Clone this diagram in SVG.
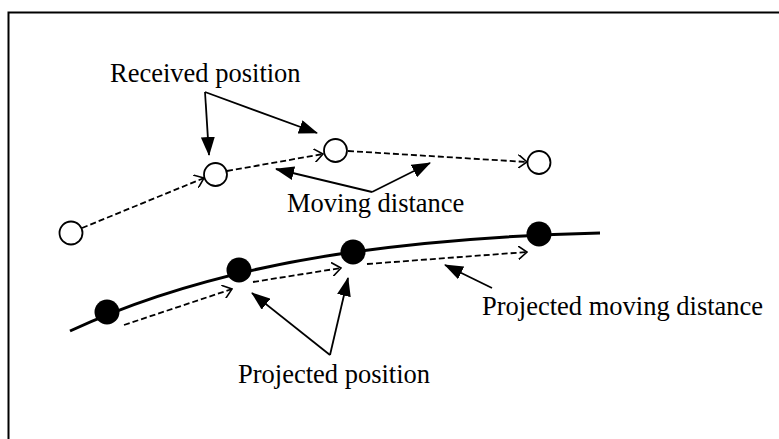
<svg xmlns="http://www.w3.org/2000/svg" width="779" height="439" viewBox="0 0 779 439">
<style>
text{font-family:"Liberation Serif","Times New Roman",serif;font-size:26.5px;fill:#000}
.dash{fill:none;stroke:#000;stroke-width:1.8;stroke-dasharray:6,3;marker-end:url(#open)}
.lead{fill:none;stroke:#000;stroke-width:1.8}
.arr{marker-end:url(#solid)}
.oc{fill:#fff;stroke:#000;stroke-width:1.8}
.fc{fill:#000;stroke:none}
</style>
<defs>
<marker id="solid" viewBox="0 0 19 14" refX="18" refY="7" markerWidth="19" markerHeight="14" markerUnits="userSpaceOnUse" orient="auto">
<path d="M0,0 L19,7 L0,14 Z" fill="#000"/>
</marker>
<marker id="open" viewBox="0 0 10 14" refX="9" refY="7" markerWidth="10" markerHeight="14" markerUnits="userSpaceOnUse" orient="auto">
<path d="M0,0 L9,7 L0,14" fill="none" stroke="#000" stroke-width="1.6"/>
</marker>
</defs>
<rect width="779" height="439" fill="#fff"/>
<rect x="8.5" y="12.5" width="800" height="500" fill="none" stroke="#000" stroke-width="2"/>
<g id="curve">
<path d="M70,331 Q190,275 353,252 Q470,236 600,233" fill="none" stroke="#000" stroke-width="3"/>
</g>
<g id="connectors">
<path class="dash" d="M82,228 L204,178"/>
<path class="dash" d="M227,171 L323,154"/>
<path class="dash" d="M348,151 L527,162"/>
<path class="dash" d="M124,325 L232,289"/>
<path class="dash" d="M253,282 L341,268"/>
<path class="dash" d="M367,264 L527,252"/>
<path class="lead arr" d="M205,92 L209,155"/>
<path class="lead arr" d="M205,92 L317,133"/>
<path class="lead arr" d="M372,192 L276,169"/>
<path class="lead arr" d="M372,192 L430,163"/>
<path class="lead arr" d="M330,355 L252,293"/>
<path class="lead arr" d="M330,355 L348,278"/>
<path class="lead arr" d="M492,288 L445,265"/>
</g>
<g id="received-1"><circle class="oc" cx="71" cy="233" r="11.5"/></g>
<g id="received-2"><circle class="oc" cx="215.5" cy="174.5" r="11.5"/></g>
<g id="received-3"><circle class="oc" cx="335.5" cy="150.5" r="11.5"/></g>
<g id="received-4"><circle class="oc" cx="539" cy="162.5" r="11.5"/></g>
<g id="projected-1"><circle class="fc" cx="107" cy="312" r="12.5"/></g>
<g id="projected-2"><circle class="fc" cx="239" cy="270" r="12.5"/></g>
<g id="projected-3"><circle class="fc" cx="353" cy="252" r="12.5"/></g>
<g id="projected-4"><circle class="fc" cx="539" cy="234" r="12.5"/></g>
<g id="label-received"><text x="110" y="82">Received position</text></g>
<g id="label-moving"><text x="287" y="212">Moving distance</text></g>
<g id="label-projected"><text x="238" y="383">Projected position</text></g>
<g id="label-projmoving"><text x="482" y="315">Projected moving distance</text></g>
</svg>
